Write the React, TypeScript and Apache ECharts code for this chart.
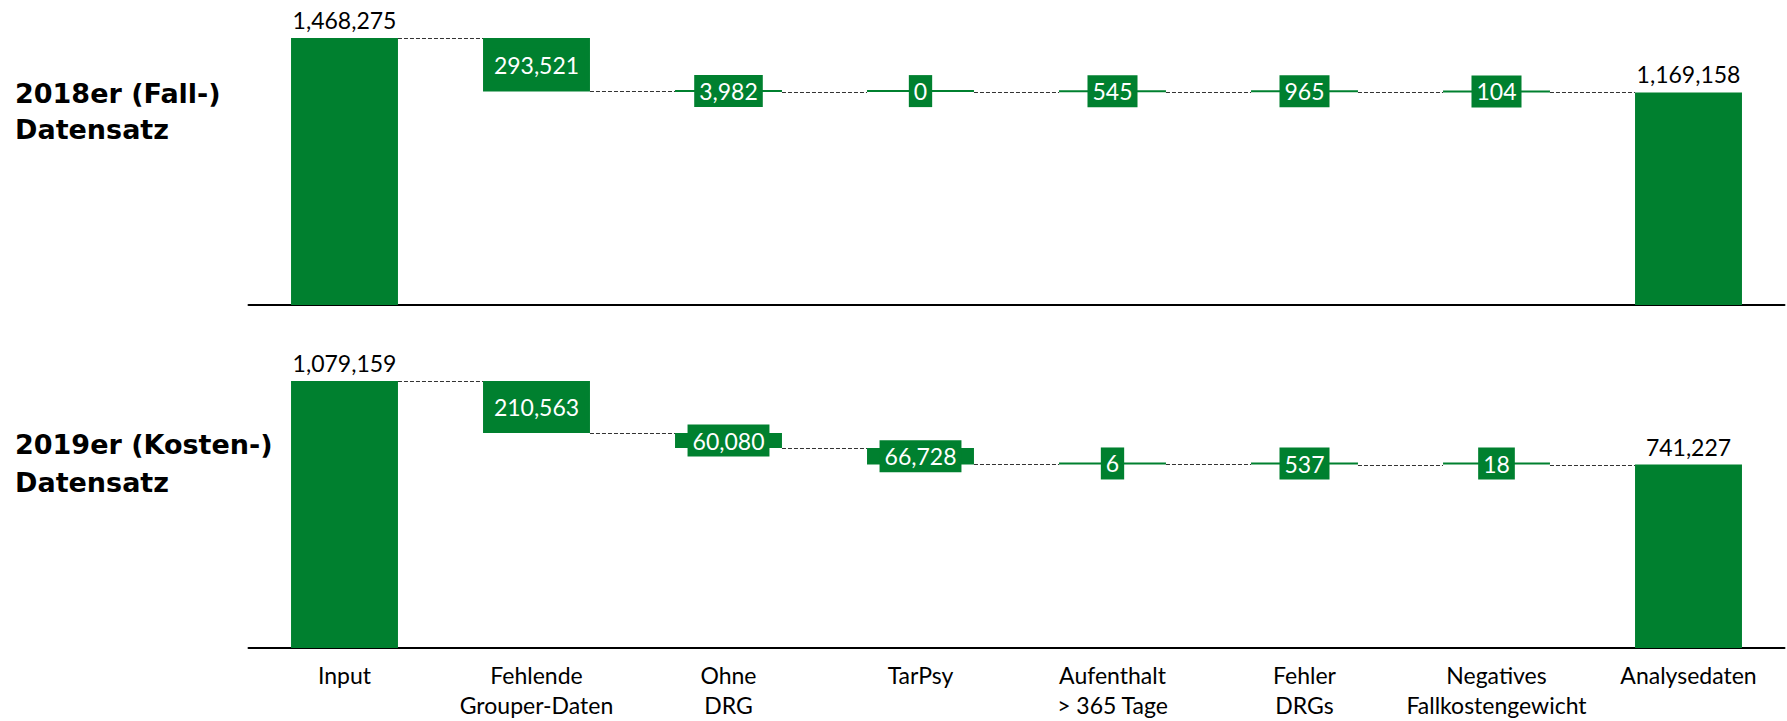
import React, { useEffect, useRef } from 'react';
import * as echarts from 'echarts';

// Filter steps shown along the x axis
const categories = [
  'Input',
  'Fehlende\nGrouper-Daten',
  'Ohne\nDRG',
  'TarPsy',
  'Aufenthalt\n> 365 Tage',
  'Fehler\nDRGs',
  'Negatives\nFallkostengewicht',
  'Analysedaten',
];

// Case counts: first and last entries are totals, the rest are removed cases
const values2018 = [1468275, 293521, 3982, 0, 545, 965, 104, 1169158];
const values2019 = [1079159, 210563, 60080, 66728, 6, 537, 18, 741227];

// Panel headings, one entry per line
const panelTitles = [
  ['2018er (Fall-)', 'Datensatz'],
  ['2019er (Kosten-)', 'Datensatz'],
];

const GREEN = '#00802f';
const BAR_RATIO = 0.557;
const FONT = 'Lato, "Open Sans", sans-serif';
const TITLE_FONT = '"DejaVu Sans", "Open Sans", sans-serif';

const fmt = (v: number) => v.toLocaleString('en-US');

// Invisible base under each step bar plus the level each connector sits on
function waterfall(values: number[]) {
  const last = values.length - 1;
  const base: number[] = [0];
  const levels: number[] = [values[0]];
  let running = values[0];
  for (let i = 1; i < last; i++) {
    running -= values[i];
    base.push(running);
    levels.push(running);
  }
  base.push(0);
  return { base, levels };
}

function buildPanel(values: number[], idx: number) {
  const { base, levels } = waterfall(values);
  const last = values.length - 1;
  const stack = 'wf' + idx;
  const visible = values.map((v, i) => {
    const isTotal = i === 0 || i === last;
    return {
      value: v,
      label: isTotal
        ? {
            show: true,
            position: 'top',
            distance: 6,
            color: '#000',
            fontSize: 23,
            lineHeight: 24,
            fontFamily: FONT,
            formatter: () => fmt(v),
          }
        : {
            show: true,
            position: 'inside',
            color: '#fff',
            backgroundColor: GREEN,
            padding: [4, 5],
            fontSize: 23,
            lineHeight: 24,
            fontFamily: FONT,
            formatter: () => fmt(v),
          },
    };
  });
  return [
    {
      type: 'custom',
      xAxisIndex: idx,
      yAxisIndex: idx,
      silent: true,
      z: 1,
      data: levels.map((l, i) => [i, l]),
      renderItem: (_params: any, api: any) => {
        const i = api.value(0);
        const level = api.value(1);
        const p = api.coord([i, level]);
        const band = api.size([1, 0])[0];
        const half = (band * BAR_RATIO) / 2;
        const y = Math.round(p[1]) + 0.5;
        return {
          type: 'line',
          shape: { x1: p[0] + half, y1: y, x2: p[0] + band - half, y2: y },
          style: { stroke: '#333', lineWidth: 1, lineDash: [4, 2] },
        };
      },
    },
    {
      type: 'bar',
      xAxisIndex: idx,
      yAxisIndex: idx,
      stack,
      silent: true,
      barWidth: BAR_RATIO * 100 + '%',
      itemStyle: { color: 'transparent' },
      data: base,
    },
    {
      type: 'bar',
      xAxisIndex: idx,
      yAxisIndex: idx,
      stack,
      silent: true,
      barWidth: BAR_RATIO * 100 + '%',
      barMinHeight: 2,
      itemStyle: { color: GREEN },
      data: visible,
      z: 3,
    },
  ];
}

export default function App() {
  const ref = useRef<HTMLDivElement>(null);

  useEffect(() => {
    if (!ref.current) return;
    const chart = echarts.init(ref.current, undefined, { renderer: 'svg' });
    const panels = [values2018, values2019];
    const tops = [38, 381];
    // vertical centres of each heading line
    const titleLineY = [
      [93, 129],
      [444, 482],
    ];

    chart.setOption({
      animation: false,
      backgroundColor: '#fff',
      grid: tops.map((t) => ({ left: 248.5, right: 2.5, top: t, height: 267 })),
      xAxis: panels.map((_, i) => ({
        type: 'category',
        gridIndex: i,
        data: categories,
        axisLine: { lineStyle: { color: '#000', width: 2 } },
        axisTick: { show: false },
        axisLabel: {
          show: i === 1,
          interval: 0,
          margin: 12,
          color: '#000',
          fontSize: 23,
          lineHeight: 30,
          fontFamily: FONT,
        },
      })),
      yAxis: panels.map((vals, i) => ({
        type: 'value',
        gridIndex: i,
        min: 0,
        max: vals[0],
        show: false,
        splitLine: { show: false },
      })),
      graphic: panelTitles.flatMap((lines, i) =>
        lines.map((line, j) => ({
          type: 'text',
          x: 15,
          y: titleLineY[i][j],
          style: {
            text: line,
            font: `bold 27px ${TITLE_FONT}`,
            lineHeight: 32,
            verticalAlign: 'middle',
            fill: '#000',
          },
        }))
      ),
      series: panels.flatMap((vals, i) => buildPanel(vals, i)),
    });

    return () => chart.dispose();
  }, []);

  return (
    <div
      ref={ref}
      style={{ position: 'absolute', left: 0, top: 0, width: 1787, height: 721 }}
    />
  );
}
